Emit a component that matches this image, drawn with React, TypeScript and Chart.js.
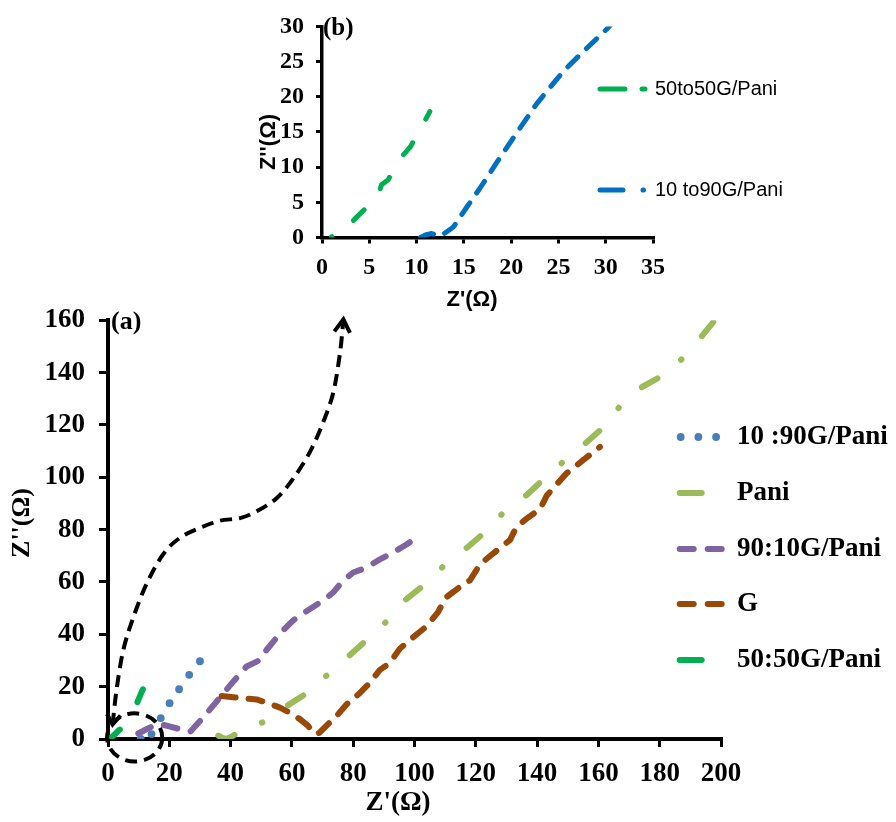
import React, { useEffect, useRef } from "react";
import { Chart, registerables } from "chart.js";
Chart.register(...registerables);

// ---------- (a) main chart data ----------
const mainXTicks = [0, 20, 40, 60, 80, 100, 120, 140, 160, 180, 200];
const mainYTicks = [0, 20, 40, 60, 80, 100, 120, 140, 160];

const blue1090X = [10.7, 14.2, 17.2, 20.1, 23.2, 26.5, 30.0];
const blue1090Y = [0, 1.9, 8.0, 13.7, 19.0, 24.5, 29.7];

const paniX = [36, 37.3, 38.7, 40.9, 42.5, 50.7, 58.3, 64.2, 71.3, 78.4, 83.8, 90.7, 96.9, 102.9, 109.4, 117, 123, 129, 136.6, 142, 148.6, 155.6, 161.6, 167, 173.6, 180.6, 187.5, 193.7, 198, 200];
const paniY = [1.3, 0.4, 0, 1.3, 2.5, 6.5, 12.6, 17, 24.2, 31.5, 37.2, 44.7, 53, 58.6, 66, 73, 79, 86.5, 93.2, 99.1, 106, 112.8, 119, 127.1, 134, 138.7, 145.4, 153.8, 160, 163];

const purpleX = [9.9, 13, 16.4, 19.7, 24.6, 26.8, 31.1, 36.5, 40.9, 45.2, 49.6, 51.7, 56.1, 60.4, 65.9, 70.2, 73.5, 76.7, 80, 84.3, 88.7, 93, 97.4, 101.2];
const purpleY = [2.1, 4, 5.9, 4.9, 3.4, 2.7, 8.3, 15.8, 22, 27.7, 30.2, 34, 40.3, 45.3, 49.7, 52.9, 56, 60.5, 63.6, 65.5, 68.6, 71.2, 74.3, 77.5];

const gX = [37.1, 43, 48.5, 51.7, 56.1, 59.3, 62.6, 65.3, 67, 68, 69.1, 71.8, 74.6, 77.8, 82.2, 85.4, 88.7, 91.9, 95.2, 99.6, 103.9, 107.7, 110.2, 114.8, 118.1, 121.4, 127.9, 131.2, 133.3, 136.6, 141, 143.1, 146.4, 149.7, 155.1, 160.5];
const gY = [16.4, 15.7, 15.1, 13.9, 12, 10.1, 7.6, 5.0, 2.5, 1.9, 2.5, 5.7, 8.8, 13.2, 17.6, 21.4, 26.4, 29, 34.5, 38.9, 43, 48.5, 54, 58.1, 60.6, 66.8, 73, 76.1, 81.1, 84.2, 87.9, 92.9, 97.3, 101.6, 106.6, 111.6];

const green5050X = [0.5, 2, 3.5, 5, 6.5, 8, 9.4, 10.8, 12.1];
const green5050Y = [0, 1.5, 3.3, 4.6, 7, 10, 13.5, 17.5, 20.8];

// dashed arrow (annotation) path in data units
const arrowX = [1.5, 2.8, 5.0, 8.3, 12.6, 18.0, 23.5, 30.0, 36.5, 43.1, 48.5, 55.0, 60.5, 65.9, 70.2, 73.5, 75.7, 76.8];
const arrowY = [5.5, 18.9, 34.0, 46.6, 59.3, 70.6, 76.9, 80.7, 83.4, 84.4, 87.0, 92.0, 99.6, 109.7, 121.0, 132.4, 147.5, 160.3];
const circleCenter = [8.7, 0.6];
const circleRadii = [9.0, 9.2];

// ---------- (b) inset data ----------
const insetXTicks = [0, 5, 10, 15, 20, 25, 30, 35];
const insetYTicks = [0, 5, 10, 15, 20, 25, 30];

const inGreenX = [1.0, 2.0, 3.0, 4.5, 5.5, 6.0, 6.3, 7.0, 8.1, 9.3, 10.5, 11.4];
const inGreenY = [0.1, 1.0, 2.0, 4.0, 5.5, 6.3, 7.5, 8.2, 11.0, 12.8, 15.6, 17.9];

const inBlueX = [10.4, 11.0, 11.6, 12.2, 12.65, 13.9, 15.3, 16.7, 18.5, 20.6, 22.7, 25.5, 27.6, 30.1, 30.5];
const inBlueY = [0, 0.4, 0.56, 0.3, 0.3, 1.5, 4.3, 7.0, 10.7, 14.9, 19.0, 23.6, 26.4, 29.6, 30.2];

const SERIF = "'Times New Roman', 'Liberation Serif', serif";
const SANS = "Arial, 'Liberation Sans', sans-serif";

const pts = (xs: number[], ys: number[]) => xs.map((x, i) => ({ x, y: ys[i] }));

function smoothPath(ctx: CanvasRenderingContext2D, p: { x: number; y: number }[]) {
  ctx.moveTo(p[0].x, p[0].y);
  for (let i = 0; i < p.length - 1; i++) {
    const p0 = p[i - 1] || p[i];
    const p1 = p[i];
    const p2 = p[i + 1];
    const p3 = p[i + 2] || p2;
    const c1x = p1.x + (p2.x - p0.x) / 6, c1y = p1.y + (p2.y - p0.y) / 6;
    const c2x = p2.x - (p3.x - p1.x) / 6, c2y = p2.y - (p3.y - p1.y) / 6;
    ctx.bezierCurveTo(c1x, c1y, c2x, c2y, p2.x, p2.y);
  }
}

function head(ctx: CanvasRenderingContext2D, tx: number, ty: number, fx: number, fy: number, len: number, ang: number) {
  const a = Math.atan2(ty - fy, tx - fx);
  ctx.beginPath();
  ctx.moveTo(tx - len * Math.cos(a - ang), ty - len * Math.sin(a - ang));
  ctx.lineTo(tx, ty);
  ctx.lineTo(tx - len * Math.cos(a + ang), ty - len * Math.sin(a + ang));
  ctx.stroke();
}

function makeLegendPlugin(cfg: { lineX0: number; lineX1: number; textX: number; ys: number[]; font: string }) {
  return {
    id: "customLegend",
    afterDraw(chart: any) {
      const ctx = chart.ctx as CanvasRenderingContext2D;
      const order: number[] = chart.options.plugins.customLegendOrder;
      ctx.save();
      order.forEach((di, k) => {
        const ds: any = chart.data.datasets[di];
        const y = cfg.ys[k];
        if (ds.showLine === false) {
          ctx.fillStyle = ds.pointBackgroundColor;
          for (let j = 0; j < 3; j++) {
            ctx.beginPath();
            ctx.arc(cfg.lineX0 + 1 + j * 17.7, y, ds.pointRadius, 0, Math.PI * 2);
            ctx.fill();
          }
        } else {
          ctx.strokeStyle = ds.borderColor;
          ctx.lineWidth = ds.borderWidth;
          ctx.lineCap = "round";
          ctx.setLineDash(ds.legendDash || []);
          ctx.beginPath();
          ctx.moveTo(cfg.lineX0, y);
          ctx.lineTo(cfg.lineX1, y);
          ctx.stroke();
          ctx.setLineDash([]);
        }
        ctx.fillStyle = "#000";
        ctx.font = cfg.font;
        ctx.textAlign = "left";
        ctx.textBaseline = "middle";
        ctx.fillText(ds.label, cfg.textX, y);
      });
      ctx.restore();
    },
  };
}

type TitleCfg = { text: string; x: number; y: number; font: string; rot?: boolean; align?: CanvasTextAlign };
function makeTitlePlugin(titles: TitleCfg[]) {
  return {
    id: "customTitles",
    afterDraw(chart: any) {
      const ctx = chart.ctx as CanvasRenderingContext2D;
      ctx.save();
      ctx.fillStyle = "#000";
      titles.forEach((t) => {
        ctx.save();
        ctx.font = t.font;
        ctx.textAlign = t.align || "center";
        ctx.textBaseline = "middle";
        ctx.translate(t.x, t.y);
        if (t.rot) ctx.rotate(-Math.PI / 2);
        ctx.fillText(t.text, 0, 0);
        ctx.restore();
      });
      ctx.restore();
    },
  };
}

const arrowPlugin = {
  id: "arrowAnno",
  afterDraw(chart: any) {
    const ctx = chart.ctx as CanvasRenderingContext2D;
    const xs = chart.scales.x, ys = chart.scales.y;
    const p = arrowX.map((x, i) => ({ x: xs.getPixelForValue(x), y: ys.getPixelForValue(arrowY[i]) }));
    ctx.save();
    ctx.strokeStyle = "#000";
    ctx.lineWidth = 4;
    ctx.setLineDash([12, 7]);
    ctx.beginPath();
    smoothPath(ctx, p);
    ctx.stroke();
    // circle
    const cx = xs.getPixelForValue(circleCenter[0]);
    const cy = ys.getPixelForValue(circleCenter[1]);
    const rx = xs.getPixelForValue(circleCenter[0] + circleRadii[0]) - cx;
    const ry = cy - ys.getPixelForValue(circleCenter[1] + circleRadii[1]);
    ctx.setLineDash([12, 7]);
    ctx.beginPath();
    ctx.ellipse(cx, cy, rx, ry, 0, 0, Math.PI * 2);
    ctx.stroke();
    ctx.setLineDash([]);
    const n = p.length;
    head(ctx, p[n - 1].x, p[n - 1].y, p[n - 2].x, p[n - 2].y + 2, 15, 0.55);
    head(ctx, p[0].x, p[0].y, p[1].x, p[1].y, 12, 0.6);
    ctx.restore();
  },
};

function axisCfg(min: number, max: number, ticks: number[], fontSize: number, tickLen: number, pad: number, fit: (s: any) => void, borderW: number) {
  return {
    type: "linear" as const,
    min,
    max,
    afterBuildTicks: (s: any) => {
      s.ticks = ticks.map((v) => ({ value: v }));
    },
    afterFit: fit,
    border: { display: true, color: "#000", width: borderW },
    grid: { display: true, drawOnChartArea: false, drawTicks: true, tickLength: tickLen, color: "#000", lineWidth: 3 },
    ticks: { color: "#000", font: { family: SERIF, size: fontSize, weight: "bold" as const }, padding: pad, maxRotation: 0, autoSkip: false },
  };
}

export default function App() {
  const mainRef = useRef<HTMLCanvasElement>(null);
  const insetRef = useRef<HTMLCanvasElement>(null);

  useEffect(() => {
    const main = new Chart(mainRef.current!, {
      type: "line",
      data: {
        datasets: [
          { label: "Pani", data: pts(paniX, paniY), borderColor: "#9bbb59", borderWidth: 6, borderDash: [18, 30, 0.5, 31], borderCapStyle: "round", borderJoinStyle: "round", pointRadius: 0, fill: false, legendDash: [22, 100] } as any,
          { label: "G", data: pts(gX, gY), borderColor: "#984807", borderWidth: 6, borderDash: [14, 13], borderCapStyle: "round", borderJoinStyle: "round", pointRadius: 0, fill: false, legendDash: [14, 14] } as any,
          { label: "90:10G/Pani", data: pts(purpleX, purpleY), borderColor: "#8064a2", borderWidth: 6, borderDash: [14, 14], borderCapStyle: "round", borderJoinStyle: "round", pointRadius: 0, fill: false, legendDash: [14, 14] } as any,
          { label: "10 :90G/Pani", data: pts(blue1090X, blue1090Y), showLine: false, pointRadius: 3.9, pointBackgroundColor: "#4a7ebb", pointBorderWidth: 0, borderColor: "#4a7ebb" } as any,
          { label: "50:50G/Pani", data: pts(green5050X, green5050Y), borderColor: "#00b050", borderWidth: 6, borderDash: [14, 33], borderCapStyle: "round", borderJoinStyle: "round", pointRadius: 0, fill: false, legendDash: [22, 100] } as any,
        ],
      },
      options: {
        responsive: false,
        animation: false,
        devicePixelRatio: 1,
        layout: { padding: { left: 0, top: 20, right: 175, bottom: 0 } },
        scales: {
          x: axisCfg(0, 200, mainXTicks, 27, 8, 11, (s: any) => { s.height = 83; }, 4),
          y: axisCfg(0, 160, mainYTicks, 27, 9, 14, (s: any) => { s.width = 108; }, 4),
        },
        plugins: {
          legend: { display: false },
          tooltip: { enabled: false },
          customLegendOrder: [3, 0, 2, 1, 4],
        } as any,
      },
      plugins: [
        makeLegendPlugin({ lineX0: 679.7, lineX1: 724, textX: 737, ys: [147, 203, 259, 314, 370], font: `bold 27px ${SERIF}` }),
        makeTitlePlugin([
          { text: "Z'(Ω)", x: 398, y: 513, font: `bold 27px ${SERIF}` },
          { text: "Z''(Ω)", x: 22, y: 233, font: `bold 26px ${SERIF}`, rot: true },
          { text: "(a)", x: 111, y: 32, font: `bold 26px ${SERIF}`, align: "left" },
        ]),
        arrowPlugin,
      ],
    });

    const inset = new Chart(insetRef.current!, {
      type: "line",
      data: {
        datasets: [
          { label: "50to50G/Pani", data: pts(inGreenX, inGreenY), borderColor: "#00b050", borderWidth: 5, borderDash: [15, 27], borderDashOffset: 14.5, borderCapStyle: "round", borderJoinStyle: "round", pointRadius: 0, fill: false, legendDash: [25, 17, 3, 60] } as any,
          { label: "10 to90G/Pani", data: pts(inBlueX, inBlueY), borderColor: "#0070c0", borderWidth: 5, borderDash: [14, 12], borderCapStyle: "round", borderJoinStyle: "round", pointRadius: 0, fill: false, legendDash: [23, 20, 0.5, 60] } as any,
        ],
      },
      options: {
        responsive: false,
        animation: false,
        devicePixelRatio: 1,
        layout: { padding: { left: 0, top: 20.5, right: 243, bottom: 0 } },
        scales: {
          x: axisCfg(0, 35, insetXTicks, 24, 6, 10, (s: any) => { s.height = 82.5; }, 3.5),
          y: axisCfg(0, 30, insetYTicks, 24, 6, 12, (s: any) => { s.width = 72; }, 3.5),
        },
        plugins: {
          legend: { display: false },
          tooltip: { enabled: false },
          customLegendOrder: [0, 1],
        } as any,
      },
      plugins: [
        makeLegendPlugin({ lineX0: 350, lineX1: 398, textX: 405, ys: [89, 190], font: `20px ${SANS}` }),
        makeTitlePlugin([
          { text: "Z'(Ω)", x: 222, y: 300, font: `bold 22px ${SANS}` },
          { text: "Z''(Ω)", x: 19, y: 142, font: `bold 22px ${SANS}`, rot: true },
          { text: "(b)", x: 73, y: 29, font: `bold 25px ${SERIF}`, align: "left" },
        ]),
      ],
    });

    return () => {
      main.destroy();
      inset.destroy();
    };
  }, []);

  return (
    <div style={{ position: "absolute", left: 0, top: 0, width: 896, height: 822, background: "#fff" }}>
      <canvas ref={mainRef} width={896} height={532} style={{ position: "absolute", left: 0, top: 290 }} />
      <canvas ref={insetRef} width={646} height={320} style={{ position: "absolute", left: 250, top: 0 }} />
    </div>
  );
}
